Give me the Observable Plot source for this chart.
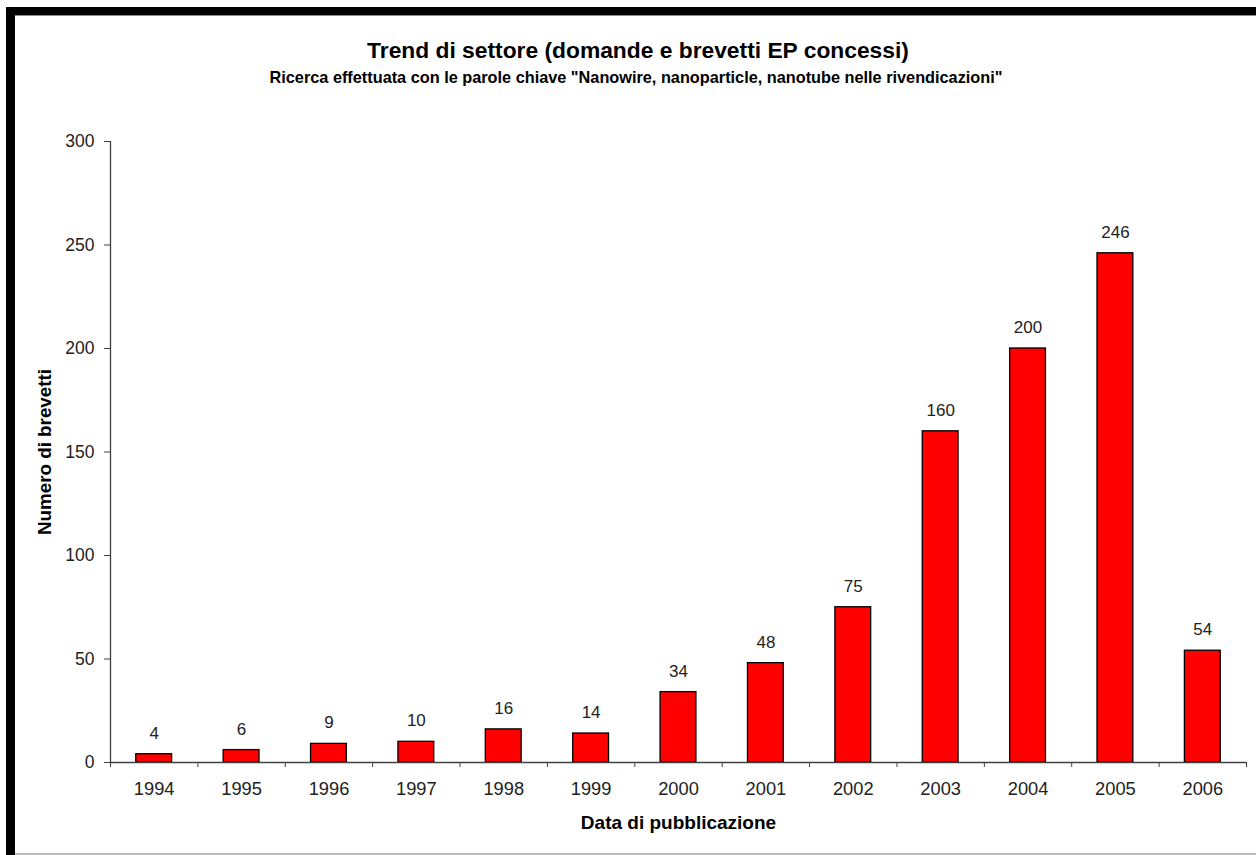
<!DOCTYPE html>
<html><head><meta charset="utf-8">
<script src="https://cdn.jsdelivr.net/npm/d3@7"></script>
<script src="https://cdn.jsdelivr.net/npm/@observablehq/plot@0.6"></script>
<style>
body{margin:0;background:#fff;font-family:"Liberation Sans",Arial,sans-serif;}
#page{position:relative;width:1256px;height:855px;overflow:hidden;background:#fff}
.b{position:absolute;z-index:5}
#title{position:absolute;left:20px;width:1236px;top:37px;text-align:center;font-weight:bold;font-size:22.8px;line-height:26px;color:#000;z-index:6}
#subtitle{position:absolute;left:16px;width:1240px;top:67px;text-align:center;font-weight:bold;font-size:16.3px;line-height:20px;color:#000;z-index:6}
#chart{position:absolute;left:0;top:100px}
</style></head>
<body><div id="page">
<div class="b" style="left:6px;top:7px;width:1250px;height:8px;background:#000"></div>
<div class="b" style="left:15px;top:15px;width:1241px;height:1px;background:#888"></div>
<div class="b" style="left:6px;top:7px;width:9px;height:848px;background:#000"></div>
<div class="b" style="left:15px;top:853px;width:1241px;height:2px;background:#bbb"></div>
<div id="title">Trend di settore (domande e brevetti EP concessi)</div>
<div id="subtitle">Ricerca effettuata con le parole chiave "Nanowire, nanoparticle, nanotube nelle rivendicazioni"</div>
<div id="chart"></div>
</div>
<script>
const years = [1994,1995,1996,1997,1998,1999,2000,2001,2002,2003,2004,2005,2006];
const counts = [4,6,9,10,16,14,34,48,75,160,200,246,54];
const yTicks = [0,50,100,150,200,250,300];
const xTitle = "Data di pubblicazione";
const yTitle = "Numero di brevetti";

const data = years.map((y,i)=>({year:y,count:counts[i]}));
const boundaries = years.map(y=>y-0.5).concat([years[years.length-1]+0.5]);
const halfBar = 0.205;
const font = "Liberation Sans, Arial, sans-serif";

const chart = Plot.plot({
  width:1256, height:740,
  marginLeft:110, marginRight:10, marginTop:41, marginBottom:78,
  style:{background:"transparent", fontFamily:font, color:"#222"},
  x:{domain:[boundaries[0], boundaries[boundaries.length-1]], label:null},
  y:{domain:[0,300], label:null},
  marks:[
    Plot.rectY(data,{x1:d=>d.year-halfBar, x2:d=>d.year+halfBar, y:"count", fill:"#ff0000", stroke:"#000", strokeWidth:1.3}),
    Plot.ruleY([0],{stroke:"#404040", strokeWidth:1.3}),
    Plot.ruleX([boundaries[0]],{stroke:"#404040", strokeWidth:1.3}),
    Plot.axisY({ticks:yTicks, tickSize:6, tickPadding:10, fontSize:17.5, stroke:"#404040", fill:"#222", label:null, tickFormat:d=>String(d)}),
    Plot.axisX({ticks:boundaries, tickSize:5, tickFormat:()=>"", stroke:"#404040", label:null}),
    Plot.axisX({ticks:years, tickSize:0, tickPadding:19, fontSize:18.3, fill:"#222", label:null, tickFormat:d=>String(d)}),
    Plot.text(data,{x:"year", y:"count", text:d=>String(d.count), dy:-21, fontSize:17, fill:"#222"}),
    Plot.text([xTitle],{frameAnchor:"bottom", dy:66, fontSize:19, fontWeight:"bold", fill:"#000"}),
    Plot.text([yTitle],{frameAnchor:"left", dx:-66, rotate:-90, textAnchor:"middle", fontSize:18.8, fontWeight:"bold", fill:"#000"})
  ]
});
document.getElementById("chart").appendChild(chart);
</script>
</body></html>
